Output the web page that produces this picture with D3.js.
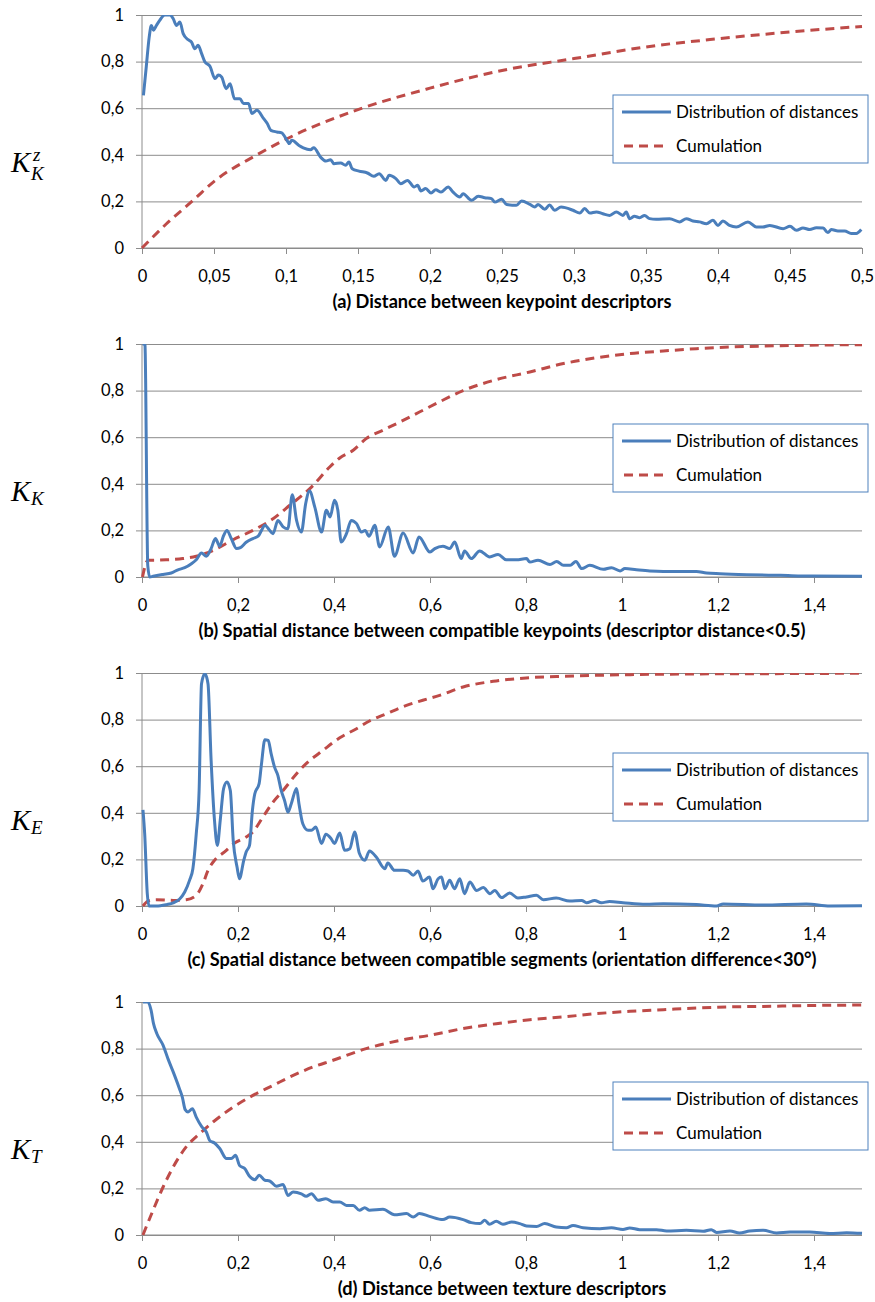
<!DOCTYPE html>
<html><head><meta charset="utf-8">
<script src="https://cdn.jsdelivr.net/npm/d3@7"></script>
<style>body{margin:0;background:#fff}svg{display:block}</style>
</head><body>
<script>
// ---------- DATA ----------
const yTicks = [0, 0.2, 0.4, 0.6, 0.8, 1];
const xTicksA = [0, 0.05, 0.1, 0.15, 0.2, 0.25, 0.3, 0.35, 0.4, 0.45, 0.5];
const xTicksB = [0, 0.2, 0.4, 0.6, 0.8, 1, 1.2, 1.4];
const legendLabels = ["Distribution of distances", "Cumulation"];
const titles = [
  "(a) Distance between keypoint descriptors",
  "(b) Spatial distance between compatible keypoints (descriptor distance<0.5)",
  "(c) Spatial distance between compatible segments (orientation difference<30°)",
  "(d) Distance between texture descriptors"
];
const symbols = [
  {main: "K", sub: "K", sup: "z"},
  {main: "K", sub: "K", sup: ""},
  {main: "K", sub: "E", sup: ""},
  {main: "K", sub: "T", sup: ""}
];

const distA = [[0.001,0.655],[0.003,0.78],[0.005,0.905],[0.0065,0.955],[0.008,0.935],[0.010,0.955],[0.0123,0.977],[0.0158,1.0],[0.0193,1.0],[0.0216,0.985],[0.024,0.955],[0.0263,0.97],[0.0286,0.92],[0.032,0.894],[0.0344,0.884],[0.0367,0.855],[0.039,0.87],[0.0414,0.834],[0.0437,0.798],[0.0472,0.78],[0.0507,0.727],[0.053,0.742],[0.0553,0.734],[0.0584,0.684],[0.0612,0.705],[0.0642,0.641],[0.068,0.641],[0.0705,0.62],[0.074,0.62],[0.0763,0.577],[0.0798,0.591],[0.0845,0.555],[0.087,0.534],[0.0895,0.505],[0.0937,0.498],[0.097,0.494],[0.1007,0.462],[0.1023,0.448],[0.104,0.462],[0.109,0.44],[0.112,0.43],[0.117,0.422],[0.1193,0.43],[0.124,0.39],[0.1277,0.373],[0.131,0.379],[0.1333,0.362],[0.138,0.365],[0.1414,0.355],[0.1437,0.369],[0.146,0.34],[0.1507,0.33],[0.1565,0.322],[0.161,0.308],[0.1647,0.319],[0.1693,0.29],[0.1716,0.312],[0.1763,0.298],[0.1798,0.276],[0.1844,0.29],[0.189,0.262],[0.1914,0.269],[0.1937,0.245],[0.197,0.255],[0.2007,0.236],[0.204,0.25],[0.2077,0.24],[0.2126,0.262],[0.216,0.24],[0.2207,0.219],[0.223,0.233],[0.2288,0.205],[0.2335,0.222],[0.238,0.216],[0.2427,0.212],[0.245,0.197],[0.2497,0.209],[0.2532,0.187],[0.26,0.183],[0.2636,0.202],[0.2694,0.187],[0.2728,0.176],[0.275,0.187],[0.2798,0.166],[0.283,0.185],[0.2866,0.162],[0.291,0.176],[0.2993,0.162],[0.304,0.15],[0.3074,0.169],[0.311,0.15],[0.3155,0.155],[0.32,0.147],[0.3248,0.14],[0.3294,0.155],[0.334,0.14],[0.3363,0.155],[0.3386,0.126],[0.342,0.136],[0.3456,0.13],[0.349,0.14],[0.3525,0.126],[0.357,0.123],[0.3664,0.126],[0.3733,0.112],[0.378,0.126],[0.3826,0.116],[0.3872,0.112],[0.392,0.104],[0.3965,0.119],[0.4,0.097],[0.4034,0.116],[0.408,0.097],[0.4127,0.09],[0.4208,0.112],[0.4266,0.09],[0.431,0.09],[0.436,0.097],[0.4452,0.083],[0.45,0.093],[0.4545,0.076],[0.459,0.086],[0.4637,0.079],[0.4683,0.087],[0.473,0.086],[0.4763,0.066],[0.4787,0.079],[0.4833,0.073],[0.488,0.073],[0.4925,0.062],[0.496,0.062],[0.4995,0.079]];
const cumA = [[0,0],[0.017,0.104],[0.0356,0.205],[0.0495,0.283],[0.0798,0.40],[0.1007,0.469],[0.15,0.594],[0.2,0.686],[0.25,0.762],[0.3,0.813],[0.35,0.863],[0.4,0.898],[0.45,0.927],[0.5,0.951]];

const distB = [[0.001,1.0],[0.006,1.0],[0.012,0.05],[0.016,0.0],[0.023,0.003],[0.044,0.011],[0.061,0.017],[0.075,0.031],[0.089,0.04],[0.103,0.057],[0.113,0.074],[0.124,0.103],[0.134,0.089],[0.144,0.122],[0.153,0.165],[0.162,0.132],[0.169,0.172],[0.177,0.2],[0.186,0.165],[0.197,0.122],[0.205,0.126],[0.217,0.149],[0.231,0.165],[0.242,0.175],[0.249,0.2],[0.256,0.222],[0.265,0.203],[0.273,0.186],[0.283,0.243],[0.294,0.215],[0.304,0.207],[0.313,0.353],[0.322,0.243],[0.332,0.193],[0.341,0.315],[0.349,0.369],[0.36,0.30],[0.374,0.193],[0.384,0.286],[0.392,0.258],[0.401,0.329],[0.408,0.286],[0.415,0.15],[0.426,0.186],[0.436,0.243],[0.447,0.229],[0.457,0.193],[0.465,0.2],[0.473,0.175],[0.485,0.222],[0.495,0.129],[0.513,0.215],[0.526,0.089],[0.544,0.189],[0.565,0.103],[0.577,0.172],[0.6,0.107],[0.61,0.122],[0.627,0.132],[0.641,0.122],[0.6515,0.15],[0.665,0.079],[0.672,0.112],[0.686,0.079],[0.7036,0.112],[0.7244,0.086],[0.7418,0.097],[0.759,0.074],[0.78,0.074],[0.801,0.079],[0.808,0.064],[0.825,0.072],[0.85,0.054],[0.864,0.067],[0.878,0.05],[0.892,0.05],[0.904,0.067],[0.916,0.036],[0.933,0.05],[0.961,0.033],[0.978,0.04],[0.996,0.026],[1.006,0.036],[1.03,0.031],[1.058,0.026],[1.086,0.024],[1.114,0.024],[1.155,0.024],[1.176,0.017],[1.204,0.014],[1.26,0.01],[1.33,0.007],[1.397,0.004],[1.5,0.003]];
const cumB = [[0.001,0],[0.0125,0.072],[0.023,0.072],[0.051,0.074],[0.085,0.079],[0.113,0.089],[0.148,0.114],[0.19,0.16],[0.231,0.2],[0.273,0.25],[0.308,0.308],[0.353,0.386],[0.391,0.472],[0.412,0.511],[0.44,0.544],[0.467,0.594],[0.502,0.63],[0.537,0.665],[0.578,0.708],[0.62,0.752],[0.669,0.80],[0.738,0.847],[0.808,0.88],[0.878,0.916],[0.947,0.941],[1.017,0.959],[1.086,0.97],[1.155,0.98],[1.225,0.987],[1.294,0.991],[1.364,0.994],[1.5,0.997]];

const distC = [[0.002,0.413],[0.0056,0.31],[0.011,0.053],[0.0146,0.0],[0.03,0.0],[0.051,0.006],[0.065,0.013],[0.078,0.029],[0.089,0.06],[0.099,0.11],[0.106,0.16],[0.113,0.31],[0.119,0.496],[0.124,0.954],[0.131,0.997],[0.1375,0.954],[0.144,0.625],[0.151,0.368],[0.157,0.26],[0.163,0.368],[0.17,0.504],[0.177,0.532],[0.184,0.496],[0.19,0.282],[0.198,0.167],[0.203,0.117],[0.212,0.196],[0.217,0.232],[0.224,0.26],[0.23,0.41],[0.235,0.482],[0.244,0.525],[0.249,0.611],[0.256,0.714],[0.263,0.711],[0.269,0.654],[0.276,0.597],[0.283,0.561],[0.29,0.496],[0.297,0.453],[0.304,0.403],[0.311,0.439],[0.322,0.504],[0.327,0.439],[0.335,0.353],[0.346,0.325],[0.353,0.325],[0.362,0.339],[0.374,0.268],[0.383,0.308],[0.394,0.289],[0.401,0.268],[0.412,0.313],[0.422,0.239],[0.433,0.246],[0.443,0.318],[0.453,0.225],[0.464,0.196],[0.474,0.236],[0.488,0.21],[0.506,0.16],[0.512,0.185],[0.526,0.153],[0.544,0.153],[0.554,0.15],[0.565,0.132],[0.575,0.15],[0.585,0.107],[0.599,0.124],[0.606,0.074],[0.617,0.117],[0.624,0.124],[0.631,0.074],[0.641,0.11],[0.651,0.074],[0.662,0.117],[0.672,0.053],[0.683,0.103],[0.697,0.067],[0.711,0.079],[0.725,0.053],[0.735,0.067],[0.749,0.036],[0.766,0.056],[0.783,0.034],[0.801,0.039],[0.822,0.046],[0.836,0.027],[0.863,0.034],[0.891,0.021],[0.916,0.024],[0.926,0.014],[0.943,0.024],[0.957,0.014],[0.974,0.019],[1.002,0.014],[1.05,0.007],[1.086,0.01],[1.155,0.006],[1.197,0.0],[1.211,0.009],[1.294,0.004],[1.384,0.009],[1.433,0.0],[1.5,0.001]];
const cumC = [[0.002,0],[0.0125,0.021],[0.03,0.027],[0.065,0.024],[0.092,0.027],[0.113,0.046],[0.127,0.096],[0.1375,0.153],[0.151,0.196],[0.172,0.232],[0.193,0.27],[0.217,0.296],[0.231,0.318],[0.252,0.382],[0.273,0.446],[0.294,0.496],[0.322,0.568],[0.342,0.611],[0.377,0.668],[0.412,0.722],[0.447,0.761],[0.474,0.794],[0.509,0.825],[0.551,0.861],[0.585,0.883],[0.62,0.904],[0.669,0.94],[0.738,0.966],[0.808,0.98],[0.878,0.986],[0.947,0.99],[1.017,0.993],[1.155,0.996],[1.294,0.997],[1.5,0.999]];

const distD = [[0.002,1.0],[0.0125,1.0],[0.019,0.964],[0.024,0.907],[0.031,0.864],[0.044,0.814],[0.054,0.757],[0.065,0.7],[0.078,0.628],[0.084,0.592],[0.09,0.538],[0.096,0.528],[0.105,0.542],[0.113,0.506],[0.124,0.466],[0.134,0.442],[0.141,0.406],[0.151,0.395],[0.162,0.371],[0.176,0.328],[0.186,0.328],[0.195,0.342],[0.203,0.299],[0.214,0.285],[0.224,0.252],[0.235,0.237],[0.244,0.256],[0.256,0.235],[0.266,0.232],[0.28,0.209],[0.294,0.217],[0.304,0.17],[0.315,0.185],[0.332,0.177],[0.342,0.166],[0.353,0.177],[0.367,0.149],[0.383,0.156],[0.398,0.142],[0.412,0.142],[0.426,0.127],[0.44,0.127],[0.453,0.106],[0.464,0.117],[0.474,0.106],[0.502,0.11],[0.526,0.087],[0.551,0.092],[0.565,0.077],[0.578,0.092],[0.599,0.08],[0.627,0.066],[0.641,0.077],[0.669,0.066],[0.686,0.053],[0.704,0.049],[0.714,0.063],[0.724,0.046],[0.738,0.059],[0.752,0.046],[0.77,0.056],[0.787,0.049],[0.801,0.039],[0.822,0.037],[0.839,0.049],[0.863,0.034],[0.884,0.031],[0.898,0.041],[0.919,0.031],[0.954,0.027],[0.978,0.031],[1.002,0.024],[1.016,0.03],[1.037,0.023],[1.072,0.023],[1.093,0.017],[1.134,0.02],[1.169,0.016],[1.186,0.023],[1.197,0.011],[1.225,0.017],[1.245,0.009],[1.266,0.017],[1.294,0.02],[1.322,0.009],[1.35,0.013],[1.391,0.013],[1.433,0.006],[1.468,0.01],[1.5,0.007]];
const cumD = [[0.002,0],[0.023,0.106],[0.044,0.206],[0.065,0.292],[0.092,0.378],[0.12,0.435],[0.148,0.485],[0.19,0.549],[0.231,0.599],[0.273,0.642],[0.315,0.685],[0.356,0.721],[0.398,0.75],[0.467,0.80],[0.537,0.835],[0.599,0.857],[0.669,0.886],[0.738,0.907],[0.808,0.924],[0.878,0.936],[0.947,0.95],[1.017,0.96],[1.086,0.967],[1.155,0.974],[1.225,0.979],[1.294,0.981],[1.364,0.984],[1.5,0.987]];

// ---------- LAYOUT ----------
const W = 875, H = 1302;
const plotLeft = 142, plotRight = 862, plotH = 233;
const panelTops = [15, 344, 673, 1002];
const blue = "#4A7EBB", red = "#BE4B48", grid = "#8C8C8C";
const uiFont = "Lato, 'Open Sans', sans-serif";
const tickSize = 16.5, legendSize = 17, titleSize = 18.2;

const panels = [
  {dist: distA, cum: cumA, xMax: 0.5, xTicks: xTicksA},
  {dist: distB, cum: cumB, xMax: 1.5, xTicks: xTicksB},
  {dist: distC, cum: cumC, xMax: 1.5, xTicks: xTicksB},
  {dist: distD, cum: cumD, xMax: 1.5, xTicks: xTicksB}
];
const fmt = v => String(+v.toFixed(3)).replace(".", ",");

const svg = d3.select("body").append("svg").attr("width", W).attr("height", H);

panels.forEach((p, i) => {
  const top = panelTops[i], bottom = top + plotH;
  const x = d3.scaleLinear().domain([0, p.xMax]).range([plotLeft, plotRight]);
  const y = d3.scaleLinear().domain([0, 1]).range([bottom, top]);
  const g = svg.append("g");

  // gridlines + y ticks
  const yAxis = d3.axisLeft(y).tickValues(yTicks).tickFormat(fmt)
    .tickSize(-(plotRight - plotLeft) - 6).tickPadding(12);
  const ya = g.append("g").attr("transform", `translate(${plotLeft - 6},0)`).call(yAxis);
  ya.select(".domain").remove();
  ya.selectAll("line").attr("stroke", grid).attr("stroke-width", 1);
  ya.selectAll("text").attr("font-family", uiFont).attr("font-size", tickSize).attr("fill", "#000");

  // vertical axis line
  g.append("line").attr("x1", plotLeft).attr("x2", plotLeft).attr("y1", top).attr("y2", bottom)
    .attr("stroke", grid).attr("stroke-width", 1);

  // x axis
  const xAxis = d3.axisBottom(x).tickValues(p.xTicks).tickFormat(fmt).tickSize(6).tickPadding(16.5);
  const xa = g.append("g").attr("transform", `translate(0,${bottom})`).call(xAxis);
  xa.select(".domain").attr("stroke", grid).attr("d", `M${plotLeft},0H${plotRight}`);
  xa.selectAll("line").attr("stroke", grid);
  xa.selectAll("text").attr("font-family", uiFont).attr("font-size", tickSize).attr("fill", "#000");

  // clip
  const cid = "clip" + i;
  svg.append("clipPath").attr("id", cid).append("rect")
    .attr("x", plotLeft - 2).attr("y", top).attr("width", plotRight - plotLeft + 4).attr("height", plotH + 3);

  const line = d3.line().x(d => x(d[0])).y(d => y(d[1])).curve(d3.curveMonotoneX);
  g.append("path").datum(p.cum).attr("d", line).attr("fill", "none").attr("stroke", red)
    .attr("stroke-width", 3).attr("stroke-dasharray", "9,6").attr("clip-path", `url(#${cid})`);
  g.append("path").datum(p.dist).attr("d", line).attr("fill", "none").attr("stroke", blue)
    .attr("stroke-width", 3).attr("stroke-linejoin", "round").attr("clip-path", `url(#${cid})`);

  // x title
  g.append("text").attr("x", (plotLeft + plotRight) / 2).attr("y", bottom + 60)
    .attr("text-anchor", "middle").attr("font-family", uiFont).attr("font-weight", "bold")
    .attr("font-size", titleSize).text(titles[i]);

  // left symbol
  const s = symbols[i];
  const sy = top + 157;
  const sg = g.append("g").attr("font-family", "'Liberation Serif', 'Times New Roman', serif")
    .attr("font-style", "italic").attr("fill", "#000");
  sg.append("text").attr("x", 11).attr("y", sy).attr("font-size", 29).text(s.main);
  sg.append("text").attr("x", 31).attr("y", sy + (s.sup ? 8 : 4)).attr("font-size", 19).text(s.sub);
  if (s.sup) sg.append("text").attr("x", 33).attr("y", sy - 11).attr("font-size", 19).text(s.sup);

  // legend
  const lx = 613, ly = top + 80;
  const lg = g.append("g");
  lg.append("rect").attr("x", lx).attr("y", ly).attr("width", 255).attr("height", 68)
    .attr("fill", "#fff").attr("stroke", "#4F81BD").attr("stroke-width", 1);
  const items = [{c: blue, dash: null}, {c: red, dash: "9,6"}];
  items.forEach((it, k) => {
    const yy = ly + 17 + k * 34;
    const l = lg.append("line").attr("x1", lx + 9).attr("x2", lx + 58).attr("y1", yy).attr("y2", yy)
      .attr("stroke", it.c).attr("stroke-width", 3);
    if (it.dash) l.attr("stroke-dasharray", it.dash).attr("x1", lx + 11).attr("x2", lx + 55);
    lg.append("text").attr("x", lx + 63).attr("y", yy).attr("dy", "0.35em")
      .attr("font-family", uiFont).attr("font-size", legendSize).attr("fill", "#000").text(legendLabels[k]);
  });
});
</script>
</body></html>
